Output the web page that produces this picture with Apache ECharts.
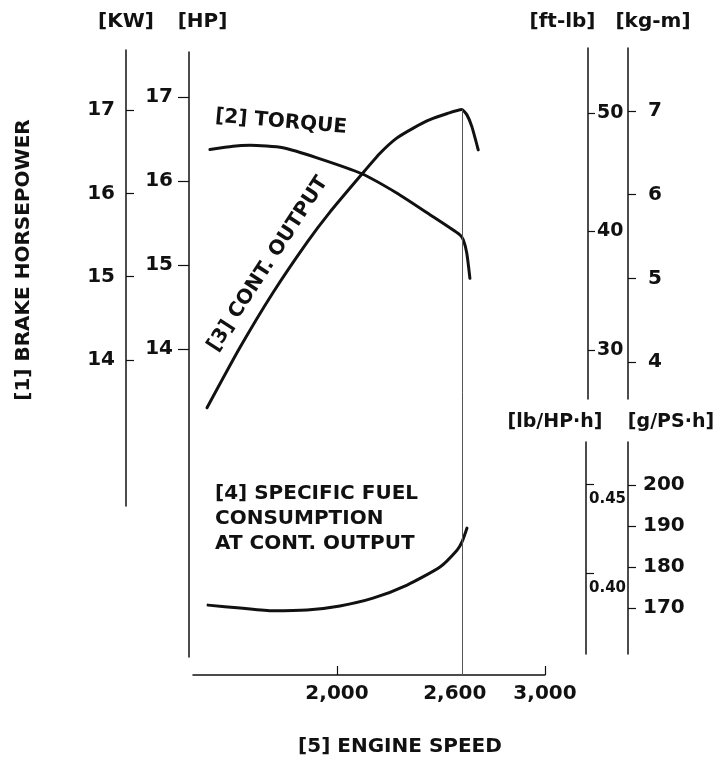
<!DOCTYPE html>
<html><head><meta charset="utf-8">
<script src="https://cdn.jsdelivr.net/npm/echarts@6/dist/echarts.min.js"></script>
<style>html,body{margin:0;padding:0;background:#fff}#c{width:719px;height:764px}</style>
</head><body><div id="c"></div>
<script>
// ---------------- data ----------------
const outputRpm = [1375, 1534, 1692, 1856, 1966, 2119, 2207, 2287, 2367, 2447, 2527, 2600, 2624, 2648, 2679];
const outputHp  = [13.30, 14.02, 14.67, 15.27, 15.63, 16.08, 16.33, 16.51, 16.63, 16.73, 16.80, 16.85, 16.79, 16.65, 16.37];
const torqueRpm = [1389, 1500, 1582, 1740, 1904, 2119, 2287, 2447, 2591, 2607, 2624, 2639];
const torqueKgm = [6.54, 6.58, 6.59, 6.56, 6.44, 6.25, 6.02, 5.76, 5.52, 5.46, 5.30, 5.00];
const sfcRpm = [1380, 1534, 1692, 1856, 2014, 2173, 2337, 2495, 2577, 2601, 2625];
const sfcGps = [170.7, 170.0, 169.3, 169.5, 170.5, 172.4, 175.6, 180.0, 184.1, 186.1, 189.5];
const ratedRpm = 2600;
const rpmTicks = [2000, 2600, 3000];
const rpmTickLabels = ['2,000', '2,600', '3,000'];
const kwTicks = [14, 15, 16, 17];
const hpTicks = [14, 15, 16, 17];
const ftlbTicks = [30, 40, 50];
const kgmTicks = [4, 5, 6, 7];
const lbhpTicks = [0.40, 0.45];
const lbhpTickLabels = ['0.40', '0.45'];
const gpsTicks = [170, 180, 190, 200];

// ---------------- layout ----------------
const FONT = '"DejaVu Sans", sans-serif';
const INK = '#111';
const plotL = 193, plotR = 545;
// pixel calibration of each scale (two reference values and where they sit)
const cal = {
  rpm:  {v1: 2000, p1: 337, v2: 3000, p2: 545},
  kw:   {v1: 17, p1: 110, v2: 14, p2: 360},
  hp:   {v1: 17, p1: 97,  v2: 14, p2: 349},
  ftlb: {v1: 50, p1: 113, v2: 30, p2: 350},
  kgm:  {v1: 7,  p1: 111, v2: 4,  p2: 362},
  lbhp: {v1: 0.45, p1: 484, v2: 0.40, p2: 573},
  gps:  {v1: 200, p1: 485, v2: 170, p2: 608}
};
function valAt(c, p) { return c.v1 + (p - c.p1) * (c.v2 - c.v1) / (c.p2 - c.p1); }
function yRange(c, top, bottom) { return {min: valAt(c, bottom), max: valAt(c, top)}; }

const xMin = valAt(cal.rpm, plotL), xMax = valAt(cal.rpm, plotR);

const G = {
  kw:  {left: 126, top: 50, height: 456, width: 20},
  hp:  {left: 189, top: 52, height: 605, width: 20},
  tq:  {left: plotL, top: 48, height: 351, width: plotR - plotL},
  sfc: {left: plotL, top: 442, height: 212, width: plotR - plotL},
  main:{left: plotL, top: 52, height: 623, width: plotR - plotL}
};

const lbl = (size, extra) => Object.assign({color: INK, fontFamily: FONT, fontWeight: 'bold', fontSize: size}, extra || {});
const axLine = {show: true, onZero: false, lineStyle: {color: INK, width: 1.5}};
const tick = (vals, inside, len) => ({show: true, customValues: vals, inside: inside, length: len, lineStyle: {color: INK, width: 1.2}});

function yAx(gi, c, g, pos, offset, ticks, tickInside, tickLen, labelOpts, name, nameGap, namePad, nameSize) {
  const r = yRange(c, g.top, g.top + g.height);
  return {
    type: 'value', gridIndex: gi, position: pos, offset: offset,
    min: r.min, max: r.max, scale: true,
    axisLine: axLine, splitLine: {show: false},
    axisTick: tick(ticks, tickInside, tickLen),
    axisLabel: Object.assign({customValues: ticks}, labelOpts),
    name: name, nameLocation: 'end', nameGap: nameGap, nameMoveOverlap: false,
    nameTextStyle: lbl(nameSize || 20, {padding: namePad})
  };
}

const grids = [G.kw, G.hp, G.tq, G.sfc, G.main].map(g => Object.assign({outerBoundsMode: 'none', containLabel: false}, g));

const hiddenX = (gi, min, max) => ({type: 'value', gridIndex: gi, min: min, max: max, show: false});

const xAxes = [
  hiddenX(0, 0, 1), hiddenX(1, 0, 1), hiddenX(2, xMin, xMax), hiddenX(3, xMin, xMax),
  {
    type: 'value', gridIndex: 4, position: 'bottom', min: xMin, max: xMax,
    axisLine: axLine, splitLine: {show: false},
    axisTick: tick([2000, 3000], true, 9),
    axisLabel: {
      customValues: rpmTicks, margin: 9,
      formatter: v => {
        const i = rpmTicks.indexOf(v);
        const t = i >= 0 ? rpmTickLabels[i] : '';
        return v === ratedRpm ? '{s|' + t + '}' : '{n|' + t + '}';
      },
      rich: {
        n: lbl(20),
        s: lbl(20, {padding: [0, 14, 0, 0]})
      }
    },
    name: '[5] ENGINE SPEED', nameLocation: 'middle', nameGap: 62, nameMoveOverlap: false,
    nameTextStyle: lbl(20, {padding: [0, 0, 0, 62]})
  }
];

const mainHp = yRange(cal.hp, G.main.top, G.main.top + G.main.height);

const yAxes = [
  yAx(0, cal.kw, G.kw, 'left', 0, kwTicks, true, 8, lbl(20, {margin: 11}), '[KW]', 18, [0, 0, 0, 0]),
  yAx(1, cal.hp, G.hp, 'left', 0, hpTicks, false, 11, lbl(20, {margin: 16}), '[HP]', 20, [0, 0, 0, 27]),
  yAx(2, cal.ftlb, G.tq, 'right', 588 - plotR, ftlbTicks, false, 7, lbl(19, {margin: 9}), '[ft-lb]', 16, [0, 51, 0, 0]),
  yAx(2, cal.kgm, G.tq, 'right', 628 - plotR, kgmTicks, false, 8, lbl(20, {margin: 20}), '[kg-m]', 16, [0, 0, 0, 50]),
  yAx(3, cal.lbhp, G.sfc, 'right', 586 - plotR, lbhpTicks, false, 8,
      lbl(15, {margin: 3, lineHeight: 30,
               formatter: v => { const i = lbhpTicks.indexOf(v); return i >= 0 ? '\n' + lbhpTickLabels[i] : ''; }}),
      '[lb/HP·h]', 10, [0, 62, 0, 0], 19),
  yAx(3, cal.gps, G.sfc, 'right', 628 - plotR, gpsTicks, false, 8, lbl(20, {margin: 15}), '[g/PS·h]', 10, [0, 0, 0, 86], 19),
  {type: 'value', gridIndex: 4, min: mainHp.min, max: mainHp.max, show: false}
];

const pairs = (xs, ys) => xs.map((x, i) => [x, ys[i]]);
const peakHp = outputHp[outputRpm.indexOf(ratedRpm)];
const curve = {type: 'line', showSymbol: false, symbol: 'none', smooth: 0.2, silent: true,
               lineStyle: {color: INK, width: 3, cap: 'round', join: 'round'}};

const series = [
  Object.assign({}, curve, {
    name: 'Cont. output', xAxisIndex: 4, yAxisIndex: 6, data: pairs(outputRpm, outputHp),
    markLine: {
      silent: true, symbol: ['none', 'none'], label: {show: false},
      lineStyle: {color: '#555', width: 1, type: 'solid'},
      data: [[{coord: [ratedRpm, peakHp]}, {coord: [ratedRpm, mainHp.min]}]]
    }
  }),
  Object.assign({}, curve, {name: 'Torque', xAxisIndex: 2, yAxisIndex: 3, data: pairs(torqueRpm, torqueKgm)}),
  Object.assign({}, curve, {name: 'SFC', xAxisIndex: 3, yAxisIndex: 5, data: pairs(sfcRpm, sfcGps)})
];

const txt = (text, x, y, rotDeg, extra) => ({
  type: 'text', x: x, y: y, rotation: rotDeg * Math.PI / 180, silent: true,
  style: Object.assign({text: text, fill: INK, font: 'bold 20px ' + FONT, align: 'center', verticalAlign: 'middle'}, extra || {})
});

const graphic = [
  txt('[1] BRAKE HORSEPOWER', 24, 260, 90),
  txt('[2] TORQUE', 281, 122, -5),
  txt('[3] CONT. OUTPUT', 268, 264, 57),
  txt('[4] SPECIFIC FUEL\nCONSUMPTION\nAT CONT. OUTPUT', 215, 481, 0, {align: 'left', verticalAlign: 'top', lineHeight: 25})
];

const chart = echarts.init(document.getElementById('c'), null, {renderer: 'canvas'});
chart.setOption({
  animation: false,
  backgroundColor: '#fff',
  grid: grids,
  xAxis: xAxes,
  yAxis: yAxes,
  series: series,
  graphic: graphic
});
</script>
</body></html>
